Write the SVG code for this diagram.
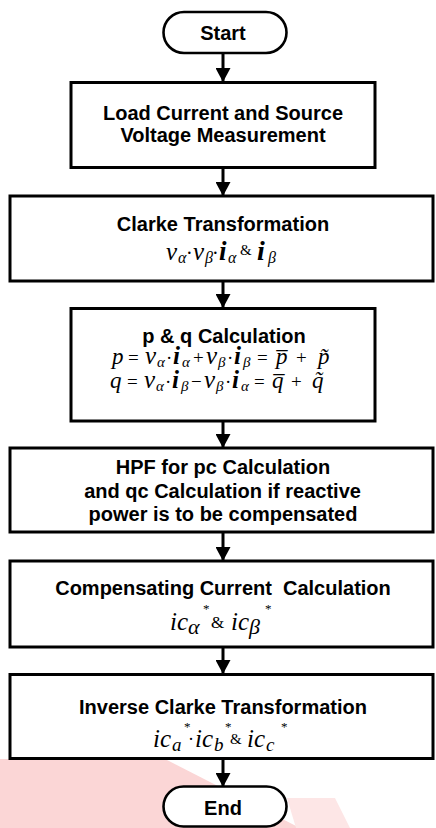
<svg xmlns="http://www.w3.org/2000/svg" width="436" height="828" viewBox="0 0 436 828">
<style>
.box{fill:#fff;stroke:#000;stroke-width:3}
.term{fill:#fff;stroke:#000;stroke-width:2.6}
.lbl{font-family:"Liberation Sans",Arial,sans-serif;font-weight:bold;font-size:20px;fill:#000;text-anchor:middle}
.m{font-family:"Liberation Serif","Times New Roman",serif;font-style:italic;fill:#000}
.up{font-style:normal}
.bi{font-weight:bold}
.conn{stroke:#000;stroke-width:3;fill:none}
</style>
<defs>
<marker id="ah" viewBox="0 0 14 15" markerWidth="14" markerHeight="15" refX="14" refY="7.5" orient="auto" markerUnits="userSpaceOnUse">
<path d="M0,0 L14,7.5 L0,15 z" fill="#000"/>
</marker>
</defs>
<rect width="436" height="828" fill="#fff"/>
<polygon points="0,759 165,759 300,828 0,828" fill="#fbd6d6"/>
<polygon points="287,798 335,798 350,828 296,828" fill="#fde6e6"/>

<g id="connectors">
<line class="conn" x1="223" y1="53" x2="223" y2="82" marker-end="url(#ah)"/>
<line class="conn" x1="223" y1="167" x2="223" y2="196" marker-end="url(#ah)"/>
<line class="conn" x1="223" y1="281" x2="223" y2="308" marker-end="url(#ah)"/>
<line class="conn" x1="223" y1="421" x2="223" y2="448" marker-end="url(#ah)"/>
<line class="conn" x1="223" y1="532" x2="223" y2="561" marker-end="url(#ah)"/>
<line class="conn" x1="223" y1="647" x2="223" y2="674" marker-end="url(#ah)"/>
<line class="conn" x1="223" y1="758" x2="223" y2="787" marker-end="url(#ah)"/>
</g>

<g id="start">
<rect class="term" x="163.5" y="12" width="123" height="41" rx="20.5"/>
<text class="lbl" x="223" y="40">Start</text>
</g>

<g id="measure">
<rect class="box" x="71" y="82.5" width="304" height="85"/>
<text class="lbl" x="223" y="120">Load Current and Source</text>
<text class="lbl" x="223" y="141.5">Voltage Measurement</text>
</g>

<g id="clarke">
<rect class="box" x="10" y="196" width="423" height="85"/>
<text class="lbl" x="223" y="230.5">Clarke Transformation</text>
<text class="m"><tspan x="166" y="260" font-size="25">v</tspan><tspan x="178" y="263" font-size="16">α</tspan><tspan x="186" y="260" font-size="20" class="up">·</tspan><tspan x="193" y="260" font-size="25">v</tspan><tspan x="205" y="263" font-size="16">β</tspan><tspan x="212" y="260" font-size="20" class="up">·</tspan><tspan x="219" y="260" font-size="27" class="bi">i</tspan><tspan x="228" y="263" font-size="16">α</tspan><tspan x="240" y="255" font-size="15" class="up">&amp;</tspan><tspan x="257" y="260" font-size="28" class="bi">i</tspan><tspan x="268" y="263" font-size="16">β</tspan></text>
</g>

<g id="pq">
<rect class="box" x="71" y="308.5" width="304" height="112.5"/>
<text class="lbl" x="224" y="342.5">p &amp; q Calculation</text>
<text class="m"><tspan x="112" y="364" font-size="23">p</tspan><tspan x="128" y="364" font-size="19" class="up">=</tspan><tspan x="145" y="364" font-size="25">v</tspan><tspan x="157" y="367" font-size="15">α</tspan><tspan x="166" y="364" font-size="19" class="up">·</tspan><tspan x="173" y="364" font-size="25" class="bi">i</tspan><tspan x="182" y="367" font-size="15">α</tspan><tspan x="193" y="364" font-size="19" class="up">+</tspan><tspan x="206" y="364" font-size="25">v</tspan><tspan x="218" y="367" font-size="15">β</tspan><tspan x="227" y="364" font-size="19" class="up">·</tspan><tspan x="234" y="364" font-size="25" class="bi">i</tspan><tspan x="243" y="367" font-size="15">β</tspan><tspan x="257" y="364" font-size="19" class="up">=</tspan><tspan x="276" y="364" font-size="23">p̅</tspan><tspan x="296" y="364" font-size="19" class="up">+</tspan><tspan x="318" y="364" font-size="23">p̃</tspan></text>
<text class="m"><tspan x="110" y="388" font-size="23">q</tspan><tspan x="127" y="388" font-size="19" class="up">=</tspan><tspan x="144" y="388" font-size="25">v</tspan><tspan x="156" y="391" font-size="15">α</tspan><tspan x="165" y="388" font-size="19" class="up">·</tspan><tspan x="172" y="388" font-size="25" class="bi">i</tspan><tspan x="181" y="391" font-size="15">β</tspan><tspan x="191" y="388" font-size="19" class="up">−</tspan><tspan x="204" y="388" font-size="25">v</tspan><tspan x="216" y="391" font-size="15">β</tspan><tspan x="225" y="388" font-size="19" class="up">·</tspan><tspan x="232" y="388" font-size="25" class="bi">i</tspan><tspan x="241" y="391" font-size="15">α</tspan><tspan x="254" y="388" font-size="19" class="up">=</tspan><tspan x="272" y="388" font-size="23">q̅</tspan><tspan x="291" y="388" font-size="19" class="up">+</tspan><tspan x="312" y="388" font-size="23">q̃</tspan></text>
</g>

<g id="hpf">
<rect class="box" x="10" y="448" width="423" height="84"/>
<text class="lbl" x="223" y="474">HPF for pc Calculation</text>
<text class="lbl" x="222.5" y="497.5">and qc Calculation if reactive</text>
<text class="lbl" x="223" y="521">power is to be compensated</text>
</g>

<g id="comp">
<rect class="box" x="10" y="561" width="423" height="86"/>
<text class="lbl" x="223" y="595" xml:space="preserve">Compensating Current  Calculation</text>
<text class="m"><tspan x="170" y="630" font-size="25">ic</tspan><tspan x="188" y="634" font-size="22">α</tspan><tspan x="203" y="613" font-size="13" class="up">*</tspan><tspan x="211" y="628" font-size="17" class="up">&amp;</tspan><tspan x="231" y="630" font-size="25">ic</tspan><tspan x="249" y="634" font-size="22">β</tspan><tspan x="265" y="613" font-size="13" class="up">*</tspan></text>
</g>

<g id="invclarke">
<rect class="box" x="10" y="674.5" width="423" height="84"/>
<text class="lbl" x="223" y="714">Inverse Clarke Transformation</text>
<text class="m"><tspan x="153" y="747" font-size="25">ic</tspan><tspan x="172" y="751" font-size="19">a</tspan><tspan x="184" y="731" font-size="13" class="up">*</tspan><tspan x="188" y="745" font-size="18" class="up">·</tspan><tspan x="195" y="747" font-size="25">ic</tspan><tspan x="214" y="751" font-size="19">b</tspan><tspan x="225" y="731" font-size="13" class="up">*</tspan><tspan x="230" y="744" font-size="15" class="up">&amp;</tspan><tspan x="247" y="747" font-size="25">ic</tspan><tspan x="266" y="751" font-size="19">c</tspan><tspan x="281" y="731" font-size="13" class="up">*</tspan></text>
</g>

<g id="end">
<rect class="term" x="163.5" y="786.5" width="123" height="40" rx="20"/>
<text class="lbl" x="223" y="815">End</text>
</g>
</svg>
